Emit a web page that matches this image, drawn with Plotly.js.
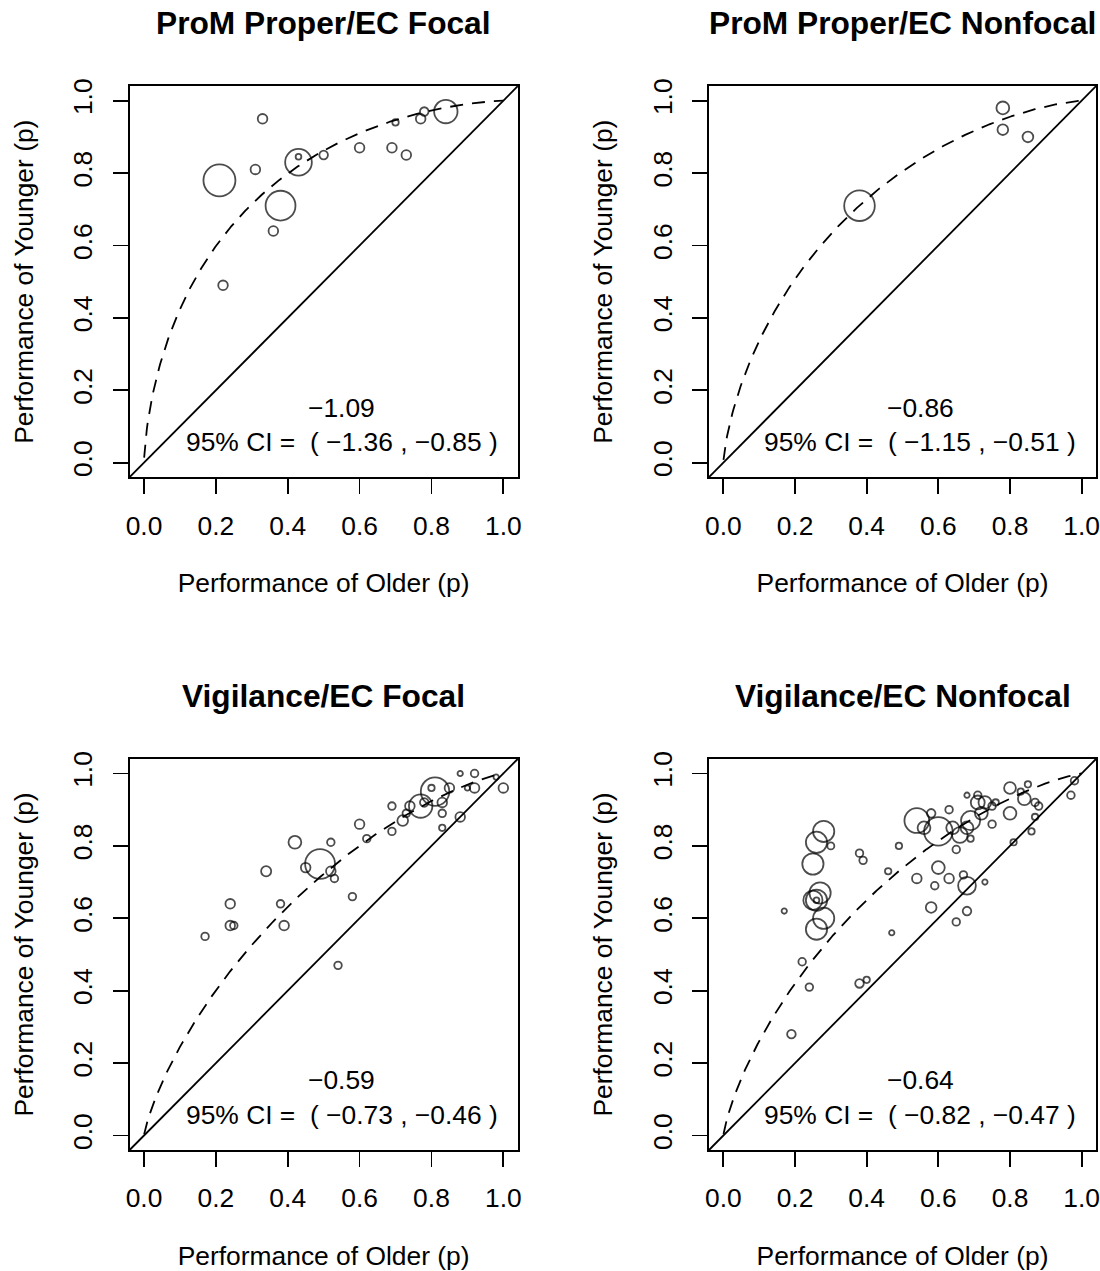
<!DOCTYPE html>
<html>
<head>
<meta charset="utf-8">
<script src="https://cdn.plot.ly/plotly-3.0.1.min.js"></script>
<style>html,body{margin:0;padding:0;background:#fff}#chart{width:1100px;height:1271px}</style>
</head>
<body>
<div id="chart"></div>
<script>
// ---------------- data ----------------
const panelTitles = ["ProM Proper/EC Focal", "ProM Proper/EC Nonfocal", "Vigilance/EC Focal", "Vigilance/EC Nonfocal"];
const effects = [-1.09, -0.86, -0.59, -0.64];
const ciLow = [-1.36, -1.15, -0.73, -0.82];
const ciHigh = [-0.85, -0.51, -0.46, -0.47];
const tickVals = [0, 0.2, 0.4, 0.6, 0.8, 1.0];
const tickLabels = ["0.0", "0.2", "0.4", "0.6", "0.8", "1.0"];
const xTitle = "Performance of Older (p)";
const yTitle = "Performance of Younger (p)";

// Panel 1: ProM Proper / EC Focal
const p1Older   = [0.33, 0.21, 0.31, 0.43, 0.43, 0.38, 0.36, 0.22, 0.50, 0.60, 0.69, 0.73, 0.70, 0.77, 0.78, 0.84];
const p1Younger = [0.95, 0.78, 0.81, 0.83, 0.845, 0.71, 0.64, 0.49, 0.85, 0.87, 0.87, 0.85, 0.94, 0.95, 0.97, 0.97];
const p1Weight  = [2.25, 25, 2.25, 17.4, 0.8, 21.8, 2.25, 2.25, 1.8, 2.25, 2.25, 2.25, 1.0, 2.25, 1.8, 13.4];

// Panel 2: ProM Proper / EC Nonfocal
const p2Older   = [0.38, 0.78, 0.78, 0.85];
const p2Younger = [0.71, 0.98, 0.92, 0.90];
const p2Weight  = [22.9, 4.0, 2.8, 2.8];

// Panel 3: Vigilance / EC Focal
const p3Older   = [0.17, 0.24, 0.24, 0.25, 0.34, 0.42, 0.38, 0.39, 0.45, 0.49, 0.52, 0.52, 0.53, 0.54, 0.58, 0.60, 0.62, 0.69, 0.69, 0.72, 0.73, 0.74, 0.77, 0.78, 0.81, 0.80, 0.85, 0.83, 0.83, 0.83, 0.88, 0.88, 0.92, 0.92, 0.90, 0.98, 1.00];
const p3Younger = [0.55, 0.64, 0.58, 0.58, 0.73, 0.81, 0.64, 0.58, 0.74, 0.75, 0.81, 0.73, 0.71, 0.47, 0.66, 0.86, 0.82, 0.91, 0.84, 0.87, 0.89, 0.91, 0.91, 0.92, 0.95, 0.96, 0.96, 0.92, 0.89, 0.85, 0.88, 1.00, 1.00, 0.96, 0.96, 0.99, 0.96];
const p3Weight  = [1.4, 2.25, 2.25, 1.4, 2.5, 4.0, 1.4, 2.25, 2.25, 21.8, 1.4, 2.25, 1.4, 1.4, 1.4, 2.25, 1.4, 1.4, 1.4, 2.8, 1.4, 2.25, 13.4, 1.8, 19.8, 1.0, 2.25, 2.25, 1.4, 1.0, 2.25, 0.7, 1.4, 2.25, 0.7, 0.7, 2.25];

// Panel 4: Vigilance / EC Nonfocal
const p4Older   = [0.28, 0.26, 0.30, 0.25, 0.27, 0.25, 0.26, 0.26, 0.28, 0.26, 0.17, 0.22, 0.24, 0.19, 0.38, 0.39, 0.46, 0.49, 0.47, 0.38, 0.40,
                   0.54, 0.60, 0.58, 0.56, 0.63, 0.64, 0.66, 0.68, 0.69, 0.72, 0.71, 0.73, 0.71, 0.68, 0.75, 0.76, 0.69, 0.65, 0.75, 0.80, 0.80, 0.83, 0.84, 0.85, 0.87, 0.88, 0.87, 0.86, 0.98, 0.97, 0.81,
                   0.60, 0.54, 0.63, 0.59, 0.67, 0.68, 0.73, 0.58, 0.68, 0.65];
const p4Younger = [0.84, 0.81, 0.80, 0.75, 0.67, 0.65, 0.65, 0.65, 0.60, 0.57, 0.62, 0.48, 0.41, 0.28, 0.78, 0.76, 0.73, 0.80, 0.56, 0.42, 0.43,
                   0.87, 0.84, 0.89, 0.85, 0.90, 0.85, 0.83, 0.85, 0.87, 0.89, 0.92, 0.92, 0.94, 0.94, 0.91, 0.92, 0.82, 0.79, 0.86, 0.96, 0.89, 0.95, 0.93, 0.97, 0.92, 0.91, 0.88, 0.84, 0.98, 0.94, 0.81,
                   0.74, 0.71, 0.71, 0.69, 0.72, 0.69, 0.70, 0.63, 0.62, 0.59];
const p4Weight  = [11, 11, 1.2, 11, 11, 9, 11, 0.8, 11, 11, 0.7, 1.4, 1.4, 1.8, 1.4, 1.4, 1.0, 1.0, 0.7, 1.8, 1.0,
                   15, 19.8, 1.8, 4.0, 1.4, 4.0, 6.0, 4.0, 9.0, 4.0, 4.7, 4.0, 1.4, 0.7, 1.4, 1.0, 1.0, 1.4, 1.4, 3.4, 4.0, 1.0, 4.0, 1.0, 1.4, 1.4, 1.0, 1.0, 1.4, 1.4, 1.0,
                   4.0, 2.25, 2.25, 1.4, 1.4, 7.7, 0.7, 2.8, 1.8, 1.4];

const panelOlder = [p1Older, p2Older, p3Older, p4Older];
const panelYounger = [p1Younger, p2Younger, p3Younger, p4Younger];
const panelWeight = [p1Weight, p2Weight, p3Weight, p4Weight];

// ---------------- helpers ----------------
function normCdf(z) {
  const t = 1 / (1 + 0.3275911 * Math.abs(z) / Math.SQRT2);
  const y = 1 - (((((1.061405429 * t - 1.453152027) * t) + 1.421413741) * t - 0.284496736) * t + 0.254829592) * t * Math.exp(-z * z / 2);
  return z >= 0 ? 0.5 * (1 + y) : 0.5 * (1 - y);
}
function normInv(p) {
  const a = [-3.969683028665376e+01, 2.209460984245205e+02, -2.759285104469687e+02, 1.383577518672690e+02, -3.066479806614716e+01, 2.506628277459239e+00];
  const b = [-5.447609879822406e+01, 1.615858368580409e+02, -1.556989798598866e+02, 6.680131188771972e+01, -1.328068155288572e+01];
  const c = [-7.784894002430293e-03, -3.223964580411365e-01, -2.400758277161838e+00, -2.549732539343734e+00, 4.374664141464968e+00, 2.938163982698783e+00];
  const d = [7.784695709041462e-03, 3.224671290700398e-01, 2.445134137142996e+00, 3.754408661907416e+00];
  const pl = 0.02425;
  let q, r;
  if (p < pl) { q = Math.sqrt(-2 * Math.log(p)); return (((((c[0]*q+c[1])*q+c[2])*q+c[3])*q+c[4])*q+c[5]) / ((((d[0]*q+d[1])*q+d[2])*q+d[3])*q+1); }
  if (p > 1 - pl) { q = Math.sqrt(-2 * Math.log(1 - p)); return -(((((c[0]*q+c[1])*q+c[2])*q+c[3])*q+c[4])*q+c[5]) / ((((d[0]*q+d[1])*q+d[2])*q+d[3])*q+1); }
  q = p - 0.5; r = q * q;
  return (((((a[0]*r+a[1])*r+a[2])*r+a[3])*r+a[4])*r+a[5]) * q / (((((b[0]*r+b[1])*r+b[2])*r+b[3])*r+b[4])*r+1);
}

const FONT = "Liberation Sans, Arial, Helvetica, sans-serif";
const LW = 1.8;
const W = 1100, H = 1271;
const colDom = [[129.6 / W, 517.7 / W], [709 / W, 1096 / W]];
const rowDom = [[1 - 477.2 / H, 1 - 86.2 / H], [1 - 1150 / H, 1 - 759 / H]];
const titleY = [23, 696];

const traces = [];
const layout = {
  width: W, height: H,
  margin: {l: 0, r: 0, t: 0, b: 0},
  paper_bgcolor: "#fff", plot_bgcolor: "#fff",
  showlegend: false,
  font: {family: FONT, color: "#000", size: 26.4},
  annotations: [], shapes: []
};

for (let i = 0; i < 4; i++) {
  const row = Math.floor(i / 2), col = i % 2;
  const sfx = i === 0 ? "" : String(i + 1);
  const xr = "x" + sfx, yr = "y" + sfx;

  // fitted curve (probit shift by the panel's effect)
  const cx = [], cy = [];
  for (let k = 0; k <= 400; k++) {
    const p = 0.0005 + k * (0.999 / 400);
    cx.push(p);
    cy.push(normCdf(normInv(p) - effects[i]));
  }
  traces.push({x: cx, y: cy, xaxis: xr, yaxis: yr, type: "scatter", mode: "lines",
    line: {color: "#000", width: LW, dash: "13px,9px"}, hoverinfo: "skip"});

  traces.push({x: panelOlder[i], y: panelYounger[i], xaxis: xr, yaxis: yr, type: "scatter", mode: "markers",
    marker: {symbol: "circle-open", size: panelWeight[i].map(w => 6.4 * Math.sqrt(w)), color: "#000", line: {color: "#000", width: LW}},
    cliponaxis: false});

  layout["xaxis" + sfx] = {
    domain: colDom[col], anchor: yr, range: [-0.04, 1.04], fixedrange: true,
    tickmode: "array", tickvals: tickVals, ticktext: tickLabels,
    ticks: "outside", ticklen: 15, tickwidth: LW, tickcolor: "#000",
    showline: true, mirror: true, linecolor: "#000", linewidth: LW,
    showgrid: false, zeroline: false, ticklabeloverflow: "allow",
    tickfont: {family: FONT, size: 26.4, color: "#000"}, ticklabelstandoff: 9,
    title: {text: xTitle, font: {family: FONT, size: 26.4, color: "#000"}, standoff: 34}
  };
  layout["yaxis" + sfx] = {
    domain: rowDom[row], anchor: xr, range: [-0.04, 1.04], fixedrange: true,
    tickmode: "array", tickvals: tickVals, ticktext: tickLabels, tickangle: -90,
    ticks: "outside", ticklen: 15, tickwidth: LW, tickcolor: "#000",
    showline: true, mirror: true, linecolor: "#000", linewidth: LW,
    showgrid: false, zeroline: false, ticklabeloverflow: "allow",
    tickfont: {family: FONT, size: 26.4, color: "#000"}, ticklabelstandoff: 10,
    title: {text: yTitle, font: {family: FONT, size: 26.4, color: "#000"}, standoff: 27}
  };

  // identity line, corner to corner
  layout.shapes.push({type: "line", xref: xr + " domain", yref: yr + " domain", x0: 0, y0: 0, x1: 1, y1: 1,
    line: {color: "#000", width: LW}});

  // panel title
  layout.annotations.push({text: panelTitles[i], xref: "paper", yref: "paper",
    x: (colDom[col][0] + colDom[col][1]) / 2, y: 1 - titleY[row] / H, xanchor: "center", yanchor: "middle",
    showarrow: false, font: {family: FONT, size: 31.7, color: "#000", weight: "bold"}});

  const fmt = v => (v < 0 ? "\u2212" : "") + Math.abs(v).toFixed(2);
  layout.annotations.push({text: fmt(effects[i]), xref: xr, yref: yr, x: 0.55, y: 0.152,
    xanchor: "center", yanchor: "middle", showarrow: false, font: {family: FONT, size: 26.4, color: "#000"}});
  layout.annotations.push({text: "95% CI =  ( " + fmt(ciLow[i]) + " , " + fmt(ciHigh[i]) + " )", xref: xr, yref: yr, x: 0.55, y: 0.056,
    xanchor: "center", yanchor: "middle", showarrow: false, font: {family: FONT, size: 26.4, color: "#000"}});
}

Plotly.newPlot("chart", traces, layout, {staticPlot: true, displayModeBar: false});
</script>
</body>
</html>
